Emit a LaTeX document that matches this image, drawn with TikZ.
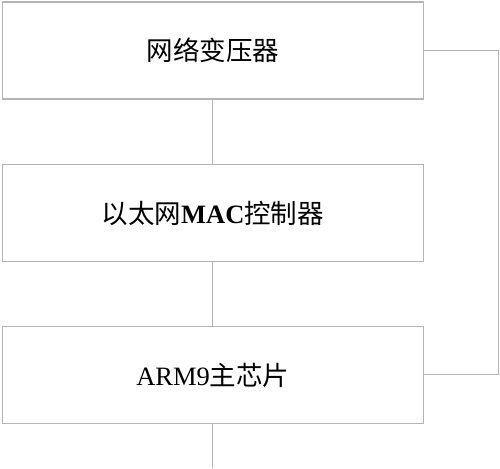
\documentclass[tikz,border=0pt]{standalone}
\usepackage{fontspec}
\setmainfont{Liberation Serif}
\newfontfamily\cjk{Noto Sans CJK SC}
\definecolor{linegray}{HTML}{B4B4B4}
\begin{document}
\begin{tikzpicture}[x=1pt,y=-1pt,
  blk/.style={draw=linegray,line width=1.2pt,minimum width=421.5pt,minimum height=97pt,inner sep=0pt,anchor=north west,font=\fontsize{26.5}{30}\selectfont},
  conn/.style={draw=linegray,line width=1.2pt}]
\useasboundingbox (0,0) rectangle (500,468);
\node[blk] (b1) at (1.5,1.5) {\cjk 网络变压器};
\node[blk] (b2) at (1.5,164) {{\cjk 以太网}\textbf{MAC}{\cjk 控制器}};
\node[blk] (b3) at (1.5,326) {ARM9{\cjk 主芯片}};
\coordinate (bot) at (b3.south |- 0,468);
\draw[conn] (b1.south) -- (b2.north);
\draw[conn] (b2.south) -- (b3.north);
\draw[conn] (b3.south) -- (bot);
\coordinate (r1) at (498.8,50.5);
\coordinate (r2) at (498.8,374.3);
\draw[conn] (b1.east |- r1) -- (r1) -- (r2) -- (b3.east |- r2);
\end{tikzpicture}
\end{document}
